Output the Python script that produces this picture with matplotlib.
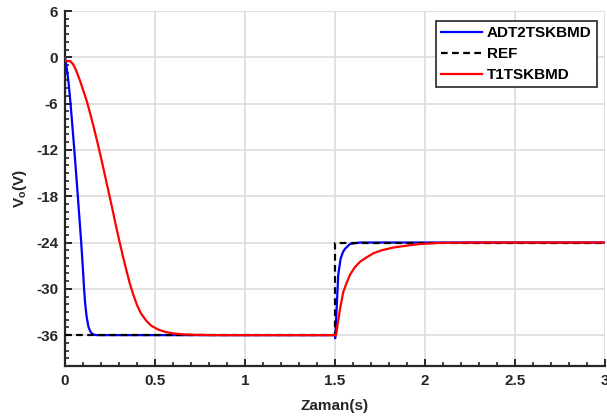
import matplotlib
matplotlib.use("Agg")
import matplotlib.pyplot as plt
from matplotlib.ticker import MultipleLocator

plt.rcParams['font.family'] = ['Liberation Sans', 'DejaVu Sans']
plt.rcParams['font.weight'] = 'bold'
plt.rcParams['axes.unicode_minus'] = False
plt.rcParams['mathtext.fontset'] = 'custom'
plt.rcParams['mathtext.rm'] = 'Liberation Sans:bold'
plt.rcParams['mathtext.it'] = 'Liberation Sans:bold'
plt.rcParams['mathtext.bf'] = 'Liberation Sans:bold'

# ---- data ----
t_blue = [0, 0.01, 0.02, 0.03, 0.04, 0.05, 0.06, 0.07, 0.08, 0.09, 0.10, 0.106,
          0.112, 0.12, 0.13, 0.14, 0.15, 0.16, 0.175, 1.5, 1.501, 1.505, 1.509,
          1.518, 1.531, 1.545, 1.556, 1.583, 1.61, 1.64, 3.0]
v_blue = [0, -1.5, -3.3, -5.8, -8.6, -11.5, -14.5, -17.6, -20.8, -24.0, -27.6, -30.0,
          -31.9, -33.6, -34.9, -35.5, -35.8, -35.93, -36.0, -36.0, -36.4, -34.5, -32.6,
          -28.2, -26.1, -25.2, -24.8, -24.2, -24.08, -24.0, -24.0]

t_ref = [0, 1.5, 1.5, 3.0]
v_ref = [-36, -36, -24, -24]

t_red = [0, 0.002, 0.03, 0.045, 0.06, 0.083, 0.1, 0.12, 0.14, 0.16, 0.18, 0.2,
         0.22, 0.24, 0.26, 0.28, 0.3, 0.32, 0.34, 0.36, 0.38, 0.40, 0.42, 0.45,
         0.48, 0.52, 0.56, 0.6, 0.65, 0.7, 0.8, 0.9, 1.5, 1.504, 1.509, 1.515,
         1.52, 1.528, 1.546, 1.565, 1.583, 1.61, 1.639, 1.67, 1.713, 1.76, 1.824,
         1.9, 1.97, 2.08, 2.3, 3.0]
v_red = [0, -0.5, -0.5, -0.9, -1.6, -3.0, -4.2, -5.6, -7.3, -9.1, -11.0, -13.0,
         -15.1, -17.2, -19.3, -21.5, -23.6, -25.6, -27.5, -29.3, -30.8, -32.1, -33.1, -34.1,
         -34.8, -35.3, -35.6, -35.78, -35.88, -35.94, -35.99, -36.0, -36.0, -36.0, -35.6, -34.5,
         -33.8, -32.6, -30.4, -29.2, -28.2, -27.2, -26.5, -26.0, -25.4, -25.0, -24.65,
         -24.4, -24.2, -24.05, -24.0, -24.0]

labels = ['ADT2TSKBMD', 'REF', 'T1TSKBMD']
xticks = [0, 0.5, 1, 1.5, 2, 2.5, 3]
xticklabels = ['0', '0.5', '1', '1.5', '2', '2.5', '3']
yticks = [-36, -30, -24, -18, -12, -6, 0, 6]

fig = plt.figure(figsize=(6.07, 4.19), dpi=100)
ax = fig.add_axes([65/607, 1-366/419, 540/607, 355/419])

ax.plot(t_blue, v_blue, color='#0000ff', lw=1.6, label=labels[0], zorder=3)
ax.plot(t_ref, v_ref, color='black', lw=1.6, linestyle=(0, (3, 2)), label=labels[1], zorder=4)
ax.plot(t_red, v_red, color='#ff0000', lw=1.6, label=labels[2], zorder=5)

ax.set_xlim(0, 3)
ax.set_ylim(-40, 6)
ax.set_xticks(xticks)
ax.set_xticklabels(xticklabels)
ax.set_yticks(yticks)
ax.xaxis.set_minor_locator(MultipleLocator(0.1))
ax.yaxis.set_minor_locator(MultipleLocator(1))

ax.grid(True, which='major', color='#dcdcdc', lw=1.2)
ax.set_axisbelow(True)

for s in ['top', 'right']:
    ax.spines[s].set_visible(False)
for s in ['left', 'bottom']:
    ax.spines[s].set_linewidth(1.6)
    ax.spines[s].set_color('#262626')

ax.tick_params(which='major', direction='in', length=5, width=1.4, color='#262626',
               labelsize=11, labelcolor='#262626')
ax.tick_params(axis='x', which='major', pad=6)
ax.tick_params(axis='y', which='major', pad=5)
ax.tick_params(which='minor', direction='in', length=3, width=1.2, color='#262626')
for lbl in ax.get_xticklabels() + ax.get_yticklabels():
    lbl.set_fontweight('bold')

ax.set_xlabel('Zaman(s)', fontsize=11, fontweight='bold', color='#262626', labelpad=8)
ax.set_ylabel('V$_{o}$(V)', fontsize=11, fontweight='bold', color='#262626', labelpad=5)

leg = ax.legend(loc='upper right', bbox_to_anchor=(0.985, 0.972), borderaxespad=0,
                fancybox=False, framealpha=1, edgecolor='#262626',
                prop={'weight': 'bold', 'size': 11}, handlelength=2.7,
                handletextpad=0.3, labelspacing=0.45, borderpad=0.35)
leg.get_frame().set_linewidth(1.2)
leg.set_zorder(10)

fig.savefig('out.png', dpi=100)
